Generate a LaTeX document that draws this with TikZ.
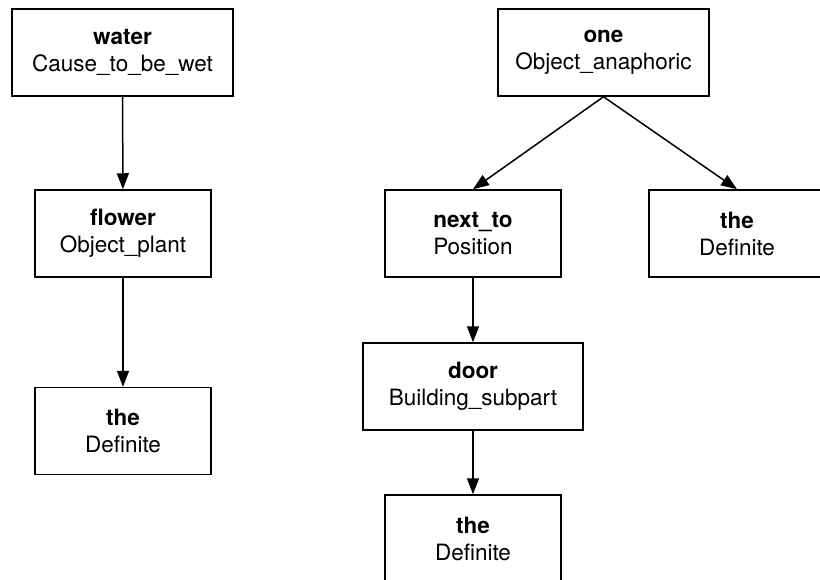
\documentclass[tikz,border=0pt]{standalone}
\usepackage{fontspec}
\setmainfont{TeX Gyre Heros}
\usetikzlibrary{arrows.meta}
\begin{document}
\begin{tikzpicture}[x=1pt,y=-1pt,
  frame/.style={draw, line width=1.5pt, rectangle, minimum height=87pt,
    minimum width=176pt, inner sep=0pt, align=center,
    font=\fontsize{22.5}{27}\selectfont},
  link/.style={line width=1.5pt, -{Triangle[length=16pt,width=12pt]}}]
\useasboundingbox (0,0) rectangle (820,579);
% left tree
\node[frame, minimum width=221pt] (water) at (122.5,52.5) {\textbf{water}\\Cause\_to\_be\_wet};
\node[frame] (flower) at (123,233.5) {\textbf{flower}\\Object\_plant};
\node[frame] (theA) at (123,431) {\textbf{the}\\Definite};
% right tree
\node[frame, minimum width=211pt] (one) at (603.5,52.5) {\textbf{one}\\Object\_anaphoric};
\node[frame] (nextto) at (473,233.5) {\textbf{next\_to}\\Position};
\node[frame] (theB) at (737,233.5) {\textbf{the}\\Definite};
\node[frame, minimum width=220pt] (door) at (473,386.5) {\textbf{door}\\Building\_subpart};
\node[frame] (theC) at (473,538.5) {\textbf{the}\\Definite};
% connectors
\draw[link] (water) -- (flower);
\draw[link] (flower) -- (theA);
\draw[link] (one.south) -- (nextto.north);
\draw[link] (one.south) -- (theB.north);
\draw[link] (nextto) -- (door);
\draw[link] (door) -- (theC);
\end{tikzpicture}
\end{document}
